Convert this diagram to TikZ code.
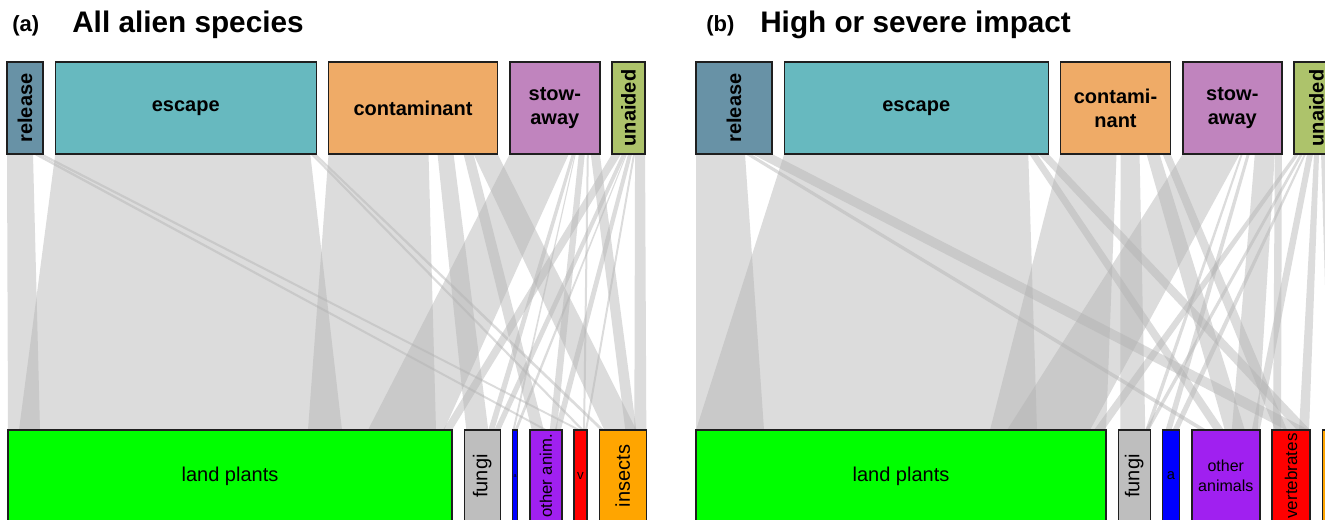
\documentclass[tikz,border=0pt]{standalone}
\usepackage{fontspec}
\setmainfont{Liberation Sans}
\usepackage{graphicx}
\usetikzlibrary{positioning,calc,backgrounds}

\definecolor{relcol}{HTML}{6892A6}
\definecolor{esccol}{HTML}{67B9BF}
\definecolor{concol}{HTML}{EFAB67}
\definecolor{stocol}{HTML}{C084BE}
\definecolor{unacol}{HTML}{ADC36B}
\definecolor{lpcol}{HTML}{00FF00}
\definecolor{funcol}{HTML}{BEBEBE}
\definecolor{aqcol}{HTML}{0000FF}
\definecolor{othcol}{HTML}{A020F0}
\definecolor{vercol}{HTML}{FF0000}
\definecolor{inscol}{HTML}{FFA500}

% link between two boxes: box, from, to (top) -- box, from, to (bottom)
\newcommand{\flow}[6]{%
  \fill[flow] ($(#1.south west)+(#2,0)$) -- ($(#1.south west)+(#3,0)$)
    -- ($(#4.north west)+(#6,0)$) -- ($(#4.north west)+(#5,0)$) -- cycle;}

\tikzset{bw/.style={minimum width=#1*0.75pt}}

\begin{document}
\begin{tikzpicture}[x=0.75pt,y=-0.75pt,node distance=9.2pt]
    % Web TiKZ Styles
    \tikzstyle{pathway}=[draw=black!88,line width=1.1pt,inner sep=0pt,outer sep=0pt,anchor=north west,
                         minimum height=69pt,align=center,font=\fontsize{15}{18}\selectfont\bfseries]
    \tikzstyle{taxon}=[draw=black!88,line width=1.1pt,inner sep=0pt,outer sep=0pt,anchor=north west,
                       minimum height=69pt,align=center,font=\fontsize{15}{18}\selectfont]
    \tikzstyle{heading}=[anchor=base west,inner sep=0pt,font=\fontsize{22.3}{26}\selectfont\bfseries]
    \tikzstyle{tag}=[anchor=base west,inner sep=0pt,font=\fontsize{16.5}{18}\selectfont\bfseries]
    \tikzstyle{flow}=[fill=black!30,fill opacity=0.46]

    \useasboundingbox (0,0) rectangle (1325,519);

    % Panel (a): titles
    \node[tag]     (tagA)   at (12,31) {(a)};
    \node[heading] (headA)  at (72,32) {All alien species};

    % Panel (a): pathways and taxa
    \node[pathway,fill=relcol,bw=36]               (relA) at (7,62) {\rotatebox{90}{release}};
    \node[pathway,fill=esccol,bw=261,right=of relA] (escA) {escape};
    \node[pathway,fill=concol,bw=169,right=of escA] (conA) {contaminant};
    \node[pathway,fill=stocol,bw=90,right=of conA]  (stoA) {stow-\\away};
    \node[pathway,fill=unacol,bw=33,right=of stoA]  (unaA) {\rotatebox{90}{unaided}};

    \node[taxon,fill=lpcol,bw=444]                (lpA)  at (8,430) {land plants};
    \node[taxon,fill=funcol,bw=36,right=of lpA]   (funA) {\rotatebox{90}{fungi}};
    \node[taxon,fill=aqcol,bw=5,right=of funA,font=\fontsize{4}{4}\selectfont] (aqA) {a};
    \node[taxon,fill=othcol,bw=32,right=of aqA,font=\fontsize{12.5}{14}\selectfont] (othA) {\rotatebox{90}{other anim.}};
    \node[taxon,fill=vercol,bw=13,right=of othA,font=\fontsize{10}{12}\selectfont] (verA) {v};
    \node[taxon,fill=inscol,bw=47,right=of verA]  (insA) {\rotatebox{90}{insects}};

    % Panel (b): titles
    \node[tag]     (tagB)   at (706,31) {(b)};
    \node[heading] (headB)  at (760,32) {High or severe impact};

    % Panel (b): pathways and taxa
    \node[pathway,fill=relcol,bw=76]               (relB) at (696,62) {\rotatebox{90}{release}};
    \node[pathway,fill=esccol,bw=264,right=of relB] (escB) {escape};
    \node[pathway,fill=concol,bw=110,right=of escB] (conB) {contami-\\nant};
    \node[pathway,fill=stocol,bw=99,right=of conB]  (stoB) {stow-\\away};
    \node[pathway,fill=unacol,bw=45,right=of stoB]  (unaB) {\rotatebox{90}{unaided}};

    \node[taxon,fill=lpcol,bw=410]                (lpB)  at (696,430) {land plants};
    \node[taxon,fill=funcol,bw=32,right=of lpB]   (funB) {\rotatebox{90}{fungi}};
    \node[taxon,fill=aqcol,bw=17,right=of funB,font=\fontsize{11}{12}\selectfont] (aqB) {a};
    \node[taxon,fill=othcol,bw=68,right=of aqB,font=\fontsize{12}{15}\selectfont] (othB) {other\\animals};
    \node[taxon,fill=vercol,bw=38,right=of othB,font=\fontsize{12.75}{14}\selectfont] (verB) {\rotatebox{90}{vertebrates}};
    \node[taxon,fill=inscol,bw=40,right=of verB]  (insB) {\rotatebox{90}{insects}};

    % Links, panel (a)
    \begin{scope}[on background layer]
    \flow{relA}{0}{26}{lpA}{0}{32}
    \flow{relA}{26}{31}{othA}{14}{18}
    \flow{relA}{31}{36}{verA}{3}{7}
    \flow{escA}{0}{255}{lpA}{11}{334}
    \flow{escA}{255}{258}{verA}{7}{10}
    \flow{escA}{258}{261}{insA}{1}{5}
    \flow{conA}{0}{100}{lpA}{300}{428}
    \flow{conA}{109}{125}{funA}{2}{24}
    \flow{conA}{135}{145}{othA}{2}{14}
    \flow{conA}{145}{169}{insA}{5}{37}
    \flow{stoA}{0}{59}{lpA}{360}{436}
    \flow{stoA}{62}{65}{funA}{24}{30}
    \flow{stoA}{65}{66}{aqA}{0}{2}
    \flow{stoA}{69}{75}{othA}{20}{27}
    \flow{stoA}{77}{79}{verA}{9}{11}
    \flow{stoA}{81}{90}{insA}{26}{37}
    \flow{unaA}{0}{9}{lpA}{435}{444}
    \flow{unaA}{10}{14}{funA}{30}{36}
    \flow{unaA}{14}{15}{aqA}{2}{5}
    \flow{unaA}{16}{20}{othA}{25}{31}
    \flow{unaA}{21}{23}{verA}{11}{13}
    \flow{unaA}{23}{33}{insA}{35}{47}

    % Links, panel (b)
    \flow{relB}{0}{49}{lpB}{0}{68}
    \flow{relB}{49}{55}{othB}{8}{15}
    \flow{relB}{56}{76}{verB}{14}{37}
    \flow{escB}{0}{244}{lpB}{0}{341}
    \flow{escB}{245}{253}{othB}{22}{32}
    \flow{escB}{254}{264}{verB}{25}{38}
    \flow{conB}{0}{56}{lpB}{294}{410}
    \flow{conB}{60}{79}{funB}{2}{27}
    \flow{conB}{86}{99}{othB}{33}{53}
    \flow{conB}{102}{110}{verB}{3}{15}
    \flow{stoB}{0}{57}{lpB}{311}{394}
    \flow{stoB}{58}{60}{funB}{27}{31}
    \flow{stoB}{64}{67}{aqB}{3}{9}
    \flow{stoB}{72}{92}{othB}{40}{66}
    \flow{stoB}{92}{99}{verB}{1}{9}
    \flow{unaB}{1}{5}{lpB}{398}{408}
    \flow{unaB}{6}{9}{funB}{27}{31}
    \flow{unaB}{10}{12}{aqB}{10}{16}
    \flow{unaB}{13}{19}{othB}{60}{68}
    \flow{unaB}{20}{25}{verB}{27}{37}
    \flow{unaB}{27}{45}{insB}{7}{37}
    \end{scope}

\end{tikzpicture}
\end{document}
